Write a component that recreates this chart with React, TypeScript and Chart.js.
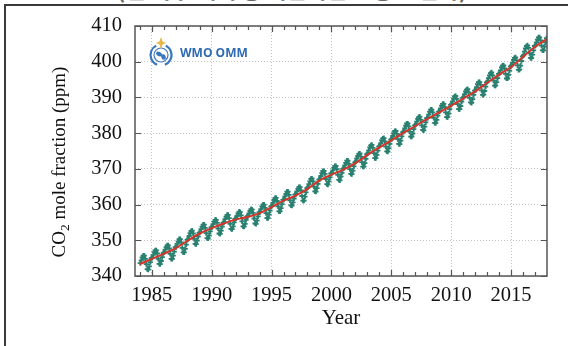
import React, { useEffect, useRef } from "react";
import { Chart, registerables } from "chart.js";

Chart.register(...registerables);

// ---- data ----
const years = [
  1984, 1985, 1986, 1987, 1988, 1989, 1990, 1991, 1992, 1993, 1994, 1995,
  1996, 1997, 1998, 1999, 2000, 2001, 2002, 2003, 2004, 2005, 2006, 2007,
  2008, 2009, 2010, 2011, 2012, 2013, 2014, 2015, 2016, 2017,
];

// monthly globally averaged CO2 mole fraction (ppm), Jan..Dec for each year
const co2Monthly = [
  [343.6, 344.4, 345.2, 345.7, 345.7, 344.8, 343.3, 341.9, 341.8, 342.7, 343.9, 345.0],
  [345.1, 345.9, 346.7, 347.2, 347.2, 346.3, 344.8, 343.4, 343.3, 344.2, 345.3, 346.4],
  [346.6, 347.4, 348.1, 348.6, 348.6, 347.7, 346.2, 344.8, 344.8, 345.7, 346.8, 348.0],
  [348.1, 349.0, 349.7, 350.3, 350.3, 349.4, 347.9, 346.6, 346.6, 347.6, 348.8, 350.1],
  [350.3, 351.2, 352.0, 352.6, 352.7, 351.9, 350.4, 349.0, 348.9, 349.9, 351.0, 352.1],
  [352.3, 353.1, 353.8, 354.4, 354.4, 353.5, 352.0, 350.6, 350.5, 351.4, 352.5, 353.6],
  [353.7, 354.5, 355.2, 355.7, 355.7, 354.9, 353.3, 351.9, 351.8, 352.7, 353.8, 354.9],
  [355.1, 355.9, 356.6, 357.1, 357.1, 356.2, 354.6, 353.2, 353.1, 353.9, 355.0, 356.0],
  [356.1, 356.8, 357.5, 358.0, 357.9, 357.0, 355.3, 353.9, 353.8, 354.6, 355.7, 356.7],
  [356.8, 357.5, 358.2, 358.7, 358.6, 357.7, 356.1, 354.7, 354.6, 355.5, 356.7, 357.8],
  [357.9, 358.7, 359.5, 360.0, 360.0, 359.1, 357.6, 356.2, 356.2, 357.2, 358.3, 359.5],
  [359.6, 360.5, 361.3, 361.8, 361.9, 361.0, 359.5, 358.1, 358.1, 359.0, 360.1, 361.3],
  [361.4, 362.3, 363.0, 363.6, 363.6, 362.7, 361.2, 359.8, 359.7, 360.6, 361.7, 362.8],
  [362.9, 363.7, 364.4, 364.9, 364.9, 364.0, 362.4, 361.1, 361.1, 362.2, 363.4, 364.6],
  [364.8, 365.7, 366.5, 367.2, 367.3, 366.5, 365.0, 363.7, 363.6, 364.6, 365.8, 367.0],
  [367.1, 368.0, 368.8, 369.4, 369.4, 368.6, 367.1, 365.7, 365.6, 366.5, 367.6, 368.7],
  [368.8, 369.6, 370.3, 370.8, 370.8, 369.9, 368.3, 366.9, 366.8, 367.8, 368.9, 370.0],
  [370.2, 371.0, 371.7, 372.3, 372.3, 371.4, 369.9, 368.6, 368.5, 369.5, 370.7, 371.8],
  [372.0, 372.9, 373.6, 374.2, 374.3, 373.4, 371.9, 370.6, 370.6, 371.6, 372.8, 374.1],
  [374.3, 375.2, 376.0, 376.6, 376.7, 375.9, 374.4, 373.0, 373.0, 373.9, 375.1, 376.2],
  [376.4, 377.2, 378.0, 378.5, 378.6, 377.7, 376.2, 374.9, 374.8, 375.8, 377.0, 378.2],
  [378.3, 379.2, 380.0, 380.6, 380.6, 379.8, 378.3, 377.0, 376.9, 377.9, 379.1, 380.3],
  [380.4, 381.3, 382.1, 382.7, 382.7, 381.9, 380.4, 379.0, 379.0, 379.9, 381.1, 382.2],
  [382.4, 383.2, 384.0, 384.5, 384.6, 383.7, 382.2, 380.9, 380.8, 381.8, 383.0, 384.2],
  [384.3, 385.2, 386.0, 386.6, 386.6, 385.8, 384.3, 382.9, 382.8, 383.7, 384.9, 386.0],
  [386.1, 386.9, 387.7, 388.2, 388.2, 387.3, 385.8, 384.5, 384.5, 385.5, 386.7, 387.9],
  [388.1, 388.9, 389.7, 390.3, 390.4, 389.6, 388.1, 386.7, 386.7, 387.6, 388.8, 389.9],
  [390.1, 390.9, 391.7, 392.2, 392.3, 391.4, 389.9, 388.6, 388.5, 389.5, 390.7, 391.9],
  [392.0, 392.9, 393.7, 394.3, 394.3, 393.5, 392.0, 390.7, 390.8, 391.8, 393.0, 394.2],
  [394.5, 395.4, 396.2, 396.8, 397.0, 396.2, 394.7, 393.3, 393.3, 394.3, 395.4, 396.6],
  [396.7, 397.6, 398.4, 398.9, 399.0, 398.1, 396.6, 395.3, 395.3, 396.3, 397.5, 398.7],
  [398.9, 399.7, 400.5, 401.1, 401.2, 400.4, 399.0, 397.7, 397.8, 398.9, 400.2, 401.5],
  [401.8, 402.8, 403.7, 404.4, 404.6, 403.9, 402.4, 401.1, 401.0, 402.0, 403.2, 404.4],
  [404.5, 405.4, 406.2, 406.8, 406.8, 406.0, 404.5, 403.2, 403.2, 404.2, 405.4, 406.6],
];

// deseasonalized trend (ppm) at the start of each year
const trendYears = [
  1984, 1985, 1986, 1987, 1988, 1989, 1990, 1991, 1992, 1993, 1994, 1995,
  1996, 1997, 1998, 1999, 2000, 2001, 2002, 2003, 2004, 2005, 2006, 2007,
  2008, 2009, 2010, 2011, 2012, 2013, 2014, 2015, 2016, 2017, 2018,
];
const co2Trend = [
  343.3, 344.8, 346.2, 347.8, 349.9, 351.9, 353.4, 354.7, 355.8, 356.5, 357.6,
  359.3, 361.1, 362.5, 364.4, 366.8, 368.4, 369.8, 371.6, 373.9, 376.0, 378.0,
  380.1, 382.0, 384.0, 385.8, 387.7, 389.7, 391.7, 394.1, 396.4, 398.5, 401.4,
  404.2, 406.4,
];

const xMajorTicks = [1985, 1990, 1995, 2000, 2005, 2010, 2015];
const xMinorTicks = [
  1984, 1985, 1986, 1987, 1988, 1989, 1990, 1991, 1992, 1993, 1994, 1995,
  1996, 1997, 1998, 1999, 2000, 2001, 2002, 2003, 2004, 2005, 2006, 2007,
  2008, 2009, 2010, 2011, 2012, 2013, 2014, 2015, 2016, 2017,
];
const yTicks = [340, 350, 360, 370, 380, 390, 400, 410];

const X_MIN = 1983.6;
const X_MAX = 2018;
const Y_MIN = 340;
const Y_MAX = 410;

const SERIF = '"Liberation Serif", "Times New Roman", serif';

const framePlugin = {
  id: "frame",
  afterDatasetsDraw(chart: any) {
    const { ctx, chartArea: a, scales } = chart;
    const x = scales.x;
    const y = scales.y;
    ctx.save();
    ctx.strokeStyle = "#555";
    ctx.lineWidth = 1.2;
    ctx.beginPath();
    for (const v of xMinorTicks) {
      const px = Math.round(x.getPixelForValue(v)) + 0.5;
      const len = xMajorTicks.includes(v) ? 6 : 4;
      ctx.moveTo(px, a.bottom);
      ctx.lineTo(px, a.bottom - len);
      ctx.moveTo(px, a.top);
      ctx.lineTo(px, a.top + len);
    }
    for (const v of yTicks) {
      const py = Math.round(y.getPixelForValue(v)) + 0.5;
      ctx.moveTo(a.left, py);
      ctx.lineTo(a.left + 6, py);
      ctx.moveTo(a.right, py);
      ctx.lineTo(a.right - 6, py);
    }
    ctx.stroke();
    ctx.lineWidth = 1.5;
    ctx.strokeStyle = "#555";
    ctx.strokeRect(a.left, a.top, a.right - a.left, a.bottom - a.top);
    ctx.restore();

    // y-axis title with subscript
    ctx.save();
    ctx.translate(60, 162);
    ctx.rotate(-Math.PI / 2);
    ctx.fillStyle = "#111";
    ctx.textBaseline = "middle";
    ctx.textAlign = "left";
    const big = `19px ${SERIF}`;
    const small = `13.5px ${SERIF}`;
    const p1 = "CO";
    const p2 = "2";
    const p3 = " mole fraction (ppm)";
    ctx.font = big;
    const w1 = ctx.measureText(p1).width;
    const w3 = ctx.measureText(p3).width;
    ctx.font = small;
    const w2 = ctx.measureText(p2).width;
    let sx = -(w1 + w2 + w3) / 2;
    ctx.font = big;
    ctx.fillText(p1, sx, 0);
    sx += w1;
    ctx.font = small;
    ctx.fillText(p2, sx, 5);
    sx += w2;
    ctx.font = big;
    ctx.fillText(p3, sx, 0);
    ctx.restore();

    // WMO OMM logo
    ctx.save();
    const cx = 161;
    const cy = 55;
    ctx.strokeStyle = "#3b77bd";
    ctx.lineWidth = 2.2;
    ctx.beginPath();
    ctx.arc(cx, cy, 10.5, Math.PI * 0.62, Math.PI * 1.35);
    ctx.stroke();
    ctx.beginPath();
    ctx.arc(cx, cy, 10.5, Math.PI * 1.65, Math.PI * 2.38);
    ctx.stroke();
    ctx.fillStyle = "#ffffff";
    ctx.beginPath();
    ctx.arc(cx, cy, 7, 0, Math.PI * 2);
    ctx.fill();
    ctx.lineWidth = 1.2;
    ctx.stroke();
    ctx.fillStyle = "#3b77bd";
    ctx.beginPath();
    ctx.ellipse(cx - 2, cy - 1, 3, 2.2, 0.4, 0, Math.PI * 2);
    ctx.ellipse(cx + 2.5, cy + 2, 2.2, 2.8, -0.3, 0, Math.PI * 2);
    ctx.fill();
    ctx.fillStyle = "#e8b64a";
    ctx.beginPath();
    const sy = cy - 12;
    ctx.moveTo(cx, sy - 6);
    ctx.lineTo(cx + 1.6, sy - 1.6);
    ctx.lineTo(cx + 5, sy);
    ctx.lineTo(cx + 1.6, sy + 1.6);
    ctx.lineTo(cx, sy + 6);
    ctx.lineTo(cx - 1.6, sy + 1.6);
    ctx.lineTo(cx - 5, sy);
    ctx.lineTo(cx - 1.6, sy - 1.6);
    ctx.closePath();
    ctx.fill();
    ctx.fillStyle = "#2e6bb3";
    ctx.font = 'bold 12px "Open Sans", "Noto Sans", sans-serif';
    ctx.textBaseline = "middle";
    ctx.textAlign = "left";
    ctx.fillText("WMO OMM", 180, 53.5);
    ctx.restore();
  },
};

export default function App() {
  const ref = useRef<HTMLCanvasElement | null>(null);

  useEffect(() => {
    if (!ref.current) return;
    const monthlyPoints: { x: number; y: number }[] = [];
    years.forEach((yr, i) => {
      co2Monthly[i].forEach((v, m) => {
        monthlyPoints.push({ x: yr + (m + 0.5) / 12, y: v });
      });
    });
    const trendPoints = trendYears.map((yr, i) => ({ x: yr, y: co2Trend[i] }));

    const tickFont = { family: SERIF, size: 20.5 };
    const chart = new Chart(ref.current, {
      type: "scatter",
      data: {
        datasets: [
          {
            type: "line",
            data: trendPoints,
            borderColor: "#d4352b",
            borderWidth: 2,
            pointRadius: 0,
            tension: 0.4,
            fill: false,
            order: 0,
          } as any,
          {
            data: monthlyPoints,
            pointStyle: "cross",
            pointRadius: 2.6,
            borderColor: "#2a8070",
            backgroundColor: "#2a8070",
            borderWidth: 1.8,
            showLine: false,
            order: 1,
          } as any,
        ],
      },
      options: {
        animation: false,
        responsive: false,
        maintainAspectRatio: false,
        layout: { padding: { left: 0, right: 21, top: 26, bottom: 0 } },
        plugins: {
          legend: { display: false },
          tooltip: { enabled: false },
          title: { display: false },
        },
        scales: {
          x: {
            type: "linear",
            min: X_MIN,
            max: X_MAX,
            afterBuildTicks: (s: any) => {
              s.ticks = xMajorTicks.map((v) => ({ value: v }));
            },
            afterFit: (s: any) => {
              s.height = 70;
            },
            grid: { color: "#c2c2c2", lineWidth: 1, drawTicks: false },
            border: { display: false, dash: [1, 2] },
            ticks: {
              font: tickFont,
              color: "#111",
              padding: 7,
              maxRotation: 0,
              autoSkip: false,
              callback: (v: any) => String(v),
            },
            title: {
              display: true,
              text: "Year",
              font: { family: SERIF, size: 21 },
              color: "#111",
              padding: { top: 0, bottom: 15 },
            },
          },
          y: {
            type: "linear",
            min: Y_MIN,
            max: Y_MAX,
            afterBuildTicks: (s: any) => {
              s.ticks = yTicks.map((v) => ({ value: v }));
            },
            afterFit: (s: any) => {
              s.width = 135;
            },
            grid: { color: "#c2c2c2", lineWidth: 1, drawTicks: false },
            border: { display: false, dash: [1, 2] },
            ticks: {
              font: tickFont,
              color: "#111",
              padding: 13,
              autoSkip: false,
              callback: (v: any) => String(v),
            },
          },
        },
      },
      plugins: [framePlugin],
    });
    return () => chart.destroy();
  }, []);

  return (
    <div
      style={{
        position: "fixed",
        left: 0,
        top: 0,
        width: 568,
        height: 346,
        background: "#fff",
        overflow: "hidden",
      }}
    >
      <div
        style={{
          position: "absolute",
          left: 0,
          width: 584,
          top: -23,
          textAlign: "center",
          fontFamily: '"Noto Sans CJK KR", sans-serif',
          fontWeight: 700,
          fontSize: 22,
          lineHeight: "22px",
          color: "#666",
          whiteSpace: "nowrap",
        }}
      >
        (전 지구 대기 중 이산화탄소 농도 변화)
      </div>
      <div
        style={{
          position: "absolute",
          left: 4,
          top: 4,
          width: 700,
          height: 500,
          border: "2px solid #3a3a3a",
          boxSizing: "border-box",
        }}
      />
      <canvas
        ref={ref}
        width={568}
        height={346}
        style={{ position: "absolute", left: 0, top: 0, width: 568, height: 346 }}
      />
    </div>
  );
}
